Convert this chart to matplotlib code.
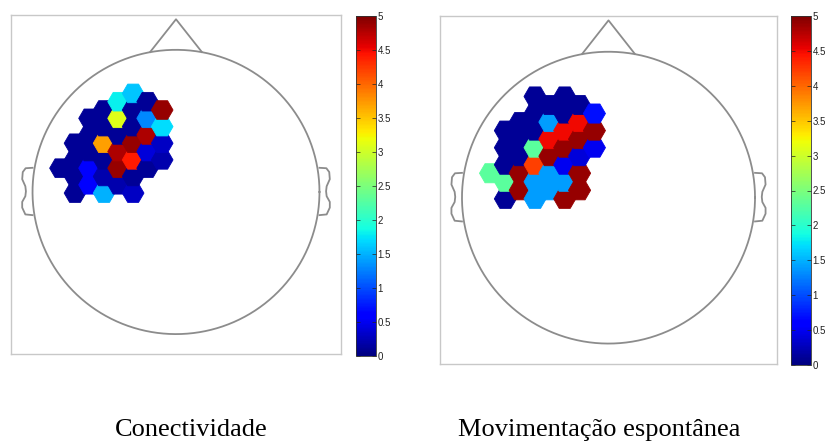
import numpy as np
import matplotlib.pyplot as plt
from matplotlib.collections import PolyCollection
from matplotlib.ticker import FormatStrFormatter

# Source cells on a flat-top hex grid: column index, half-row index, value
left_cols = [0,
             1, 1, 1, 1,
             2, 2, 2, 2, 2,
             3, 3, 3, 3, 3, 3,
             4, 4, 4, 4, 4, 4,
             5, 5, 5, 5, 5, 5, 5,
             6, 6, 6, 6, 6,
             7, 7, 7, 7]
left_rows = [3,
             0, 2, 4, 6,
             1, 3, 5, 7, 9,
             0, 2, 4, 6, 8, 10,
             1, 3, 5, 7, 9, 11,
             0, 2, 4, 6, 8, 10, 12,
             3, 5, 7, 9, 11,
             4, 6, 8, 10]
left_vals = [0.1,
             0.1, 0.1, 0.1, 0.1,
             0.6, 0.6, 0.1, 0.1, 0.1,
             1.5, 0.2, 0.1, 3.7, 0.1, 0.1,
             0.2, 4.9, 4.8, 0.1, 3.1, 1.8,
             0.3, 0.1, 4.4, 4.9, 0.1, 0.1, 1.6,
             0.1, 0.4, 4.8, 1.3, 0.1,
             0.2, 0.3, 1.7, 4.9]

right_cols = [0,
              1, 1, 1, 1, 1,
              2, 2, 2, 2, 2,
              3, 3, 3, 3, 3, 3, 3,
              4, 4, 4, 4, 4, 4,
              5, 5, 5, 5, 5, 5, 5,
              6, 6, 6, 6, 6, 6,
              7, 7, 7]
right_rows = [3,
              0, 2, 4, 6, 8,
              1, 3, 5, 7, 9,
              0, 2, 4, 6, 8, 10, 12,
              1, 3, 5, 7, 9, 11,
              0, 2, 4, 6, 8, 10, 12,
              1, 3, 5, 7, 9, 11,
              6, 8, 10]
right_vals = [2.3,
              0.1, 2.3, 0.1, 0.1, 0.1,
              4.9, 4.9, 0.1, 0.1, 0.1,
              1.4, 1.4, 4.2, 2.3, 0.1, 0.1, 0.1,
              1.4, 1.4, 4.9, 4.5, 1.4, 0.1,
              4.9, 1.4, 0.5, 4.9, 4.5, 0.1, 0.1,
              4.9, 4.9, 0.4, 4.9, 4.5, 0.1,
              0.5, 4.9, 0.7]

captions = ['Conectividade', 'Movimentação espontânea']
cbar_ticks = np.arange(0, 5.01, 0.5)

# head outline (unit circle), nose and ears
nose_x = [-0.18, 0.0, 0.18]
nose_y = [0.985, 1.215, 0.985]
ear_x = [-1.0, -1.048, -1.068, -1.072, -1.05, -1.046, -1.05, -1.072, -1.072, -1.05, -1.0]
ear_y = [0.17, 0.167, 0.14, 0.09, 0.04, 0.005, -0.03, -0.07, -0.11, -0.158, -0.163]

HEX_S = 0.0675      # grid spacing (hex circumradius)
HEX_DRAW = 1.12     # patches drawn a bit larger so neighbours merge
X0, Y0 = -0.805, -0.008


def hex_cells(cols, rows):
    ang = np.deg2rad(np.arange(0, 360, 60))
    r = HEX_S * HEX_DRAW
    polys = []
    for j, h in zip(cols, rows):
        cx = X0 + 1.5 * HEX_S * j
        cy = Y0 + np.sqrt(3) / 2 * HEX_S * h
        polys.append(np.column_stack([cx + r * np.cos(ang),
                                      cy + r * np.sin(ang)]))
    return polys


def draw_head(ax, cols, rows, vals):
    pc = PolyCollection(hex_cells(cols, rows), array=np.array(vals),
                        cmap='jet', clim=(0, 5), linewidths=0.6)
    pc.set_edgecolor('face')
    ax.add_collection(pc)

    line = dict(color='#8c8c8c', lw=1.3)
    t = np.linspace(0, 2 * np.pi, 300)
    ax.plot(np.cos(t), np.sin(t), **line)
    ax.plot(nose_x, nose_y, **line)
    ax.plot(ear_x, ear_y, **line)
    ax.plot(-np.array(ear_x), ear_y, **line)

    ax.set_xlim(-1.15, 1.15)
    ax.set_ylim(-1.14, 1.245)
    ax.set_xticks([])
    ax.set_yticks([])
    for sp in ax.spines.values():
        sp.set_color('#c8c8c8')
        sp.set_linewidth(1.0)
    return pc


def add_cbar(fig, pc, rect):
    cax = fig.add_axes(rect)
    cb = fig.colorbar(pc, cax=cax, ticks=cbar_ticks)
    cb.outline.set_linewidth(0.6)
    cb.outline.set_edgecolor('#333333')
    cax.yaxis.set_major_formatter(FormatStrFormatter('%g'))
    cax.tick_params(direction='in', length=3, width=0.5, left=True, right=True,
                    labelsize=7, pad=1, colors='#222222')
    for lbl in cax.get_yticklabels():
        lbl.set_family('Liberation Sans')
    return cb


fig = plt.figure(figsize=(8.25, 4.41), dpi=100)

W, H = 825.0, 441.0
ax1 = fig.add_axes([11 / W, 1 - 354 / H, 330 / W, 339 / H])
pc1 = draw_head(ax1, left_cols, left_rows, left_vals)
add_cbar(fig, pc1, [356 / W, 1 - 356 / H, 20 / W, 340 / H])

ax2 = fig.add_axes([440 / W, 1 - 364 / H, 337 / W, 348 / H])
pc2 = draw_head(ax2, right_cols, right_rows, right_vals)
add_cbar(fig, pc2, [791 / W, 1 - 365 / H, 20 / W, 349 / H])

fig.text(191 / W, 1 - 436 / H, captions[0], ha='center', va='baseline',
         fontsize=19, family='Liberation Serif')
fig.text(599 / W, 1 - 436 / H, captions[1], ha='center', va='baseline',
         fontsize=19, family='Liberation Serif')

fig.savefig('out.png', dpi=100)
